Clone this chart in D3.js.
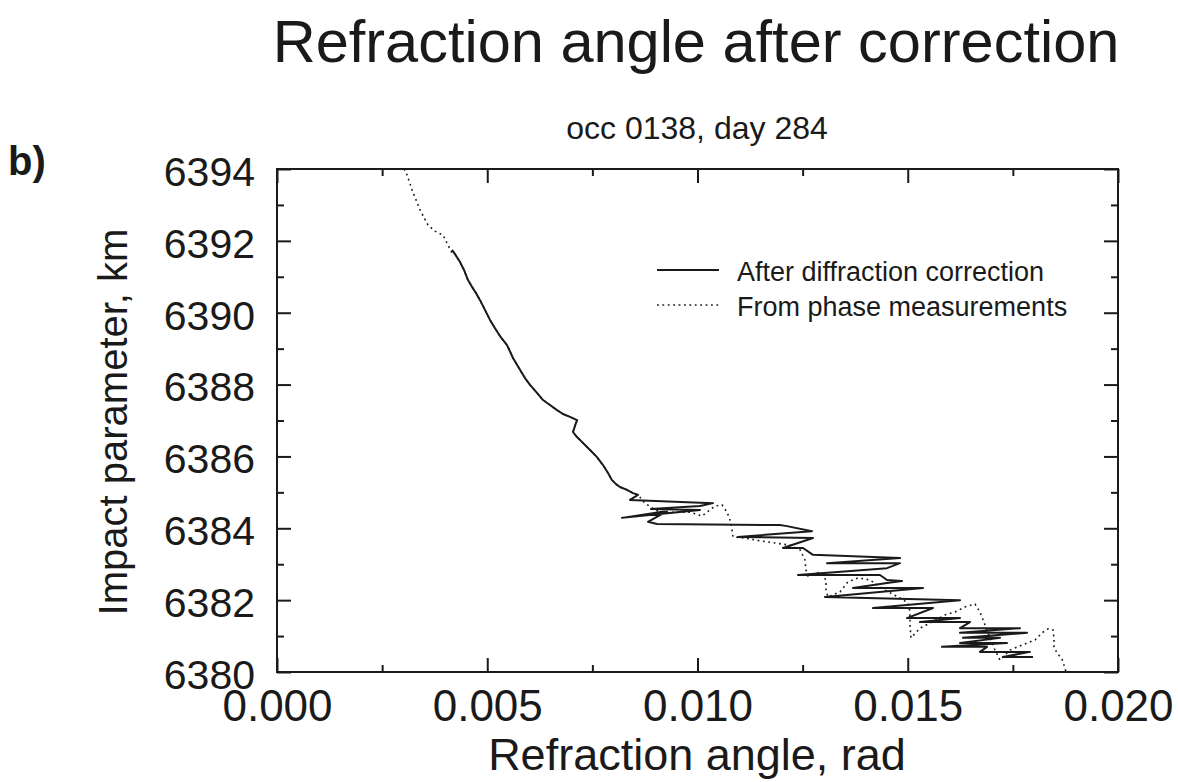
<!DOCTYPE html>
<html>
<head>
<meta charset="utf-8">
<script src="https://cdn.jsdelivr.net/npm/d3@7"></script>
<style>
  html, body { margin: 0; padding: 0; background: #fff; }
  svg { display: block; }
  text { font-family: "Liberation Sans", Arial, Helvetica, sans-serif; fill: #1a1a1a; }
</style>
</head>
<body>
<svg id="chart" width="1178" height="782"></svg>
<script>
// ---------------- DATA ----------------
const titleText = "Refraction angle after correction";
const subtitleText = "occ 0138, day 284";
const panelLabel = "b)";
const xTitle = "Refraction angle, rad";
const yTitle = "Impact parameter, km";
const legendLabels = ["After diffraction correction", "From phase measurements"];

const xMajorTicks = [0.000, 0.005, 0.010, 0.015, 0.020];
const xMinorTicks = [0.0025, 0.0075, 0.0125, 0.0175];
const yMajorTicks = [6380, 6382, 6384, 6386, 6388, 6390, 6392, 6394];
const yMinorTicks = [6381, 6383, 6385, 6387, 6389, 6391, 6393];

// phase measurements only (top part above the start of the corrected profile)
const phaseTopAngle   = [0.003020, 0.003068, 0.003210, 0.003306, 0.003401, 0.003591, 0.003757, 0.003948, 0.004067, 0.004162];
const phaseTopImpact  = [6394.00, 6393.92, 6393.42, 6393.14, 6392.86, 6392.44, 6392.27, 6392.16, 6391.88, 6391.66];

// smooth part where both profiles coincide
const commonAngle  = [0.004162, 0.004233, 0.004352, 0.004447, 0.004542, 0.004637, 0.004732, 0.004828, 0.004946, 0.005065,
                      0.005184, 0.005303, 0.005470, 0.005612, 0.005779, 0.005898, 0.006017, 0.006183, 0.006326, 0.006492,
                      0.006659, 0.006801, 0.006968, 0.007134, 0.007087, 0.007039, 0.007134, 0.007206, 0.007325, 0.007444,
                      0.007610, 0.007753, 0.007872, 0.007967, 0.008062, 0.008157, 0.008323, 0.008466, 0.008585];
const commonImpact = [6391.75, 6391.63, 6391.41, 6391.19, 6390.91, 6390.72, 6390.55, 6390.35, 6390.08, 6389.80,
                      6389.57, 6389.35, 6389.10, 6388.74, 6388.41, 6388.18, 6387.99, 6387.77, 6387.57, 6387.43,
                      6387.29, 6387.18, 6387.10, 6387.01, 6386.85, 6386.68, 6386.54, 6386.46, 6386.32, 6386.18,
                      6385.98, 6385.76, 6385.54, 6385.34, 6385.23, 6385.15, 6385.07, 6384.98, 6384.93];

// after diffraction correction (lower, multipath part)
const corrLowAngle  = [0.008395, 0.010369, 0.010059, 0.008894, 0.010059, 0.008204, 0.009275, 0.008823, 0.009037, 0.011962,
                       0.012128, 0.012723, 0.010963, 0.012747, 0.012033, 0.012509, 0.012747, 0.014816, 0.013080, 0.014816,
                       0.014507, 0.012390, 0.014340, 0.014507, 0.014863, 0.014507, 0.013698, 0.015363, 0.013032, 0.016243,
                       0.014174, 0.015600, 0.014982, 0.016243, 0.015291, 0.016480, 0.016243, 0.017669, 0.016243, 0.017836,
                       0.016314, 0.017194, 0.016243, 0.017360, 0.015814, 0.016885, 0.016718, 0.017907, 0.017265, 0.017979];
const corrLowImpact = [6384.79, 6384.70, 6384.62, 6384.54, 6384.51, 6384.29, 6384.48, 6384.18, 6384.12, 6384.09,
                       6384.06, 6383.92, 6383.76, 6383.73, 6383.45, 6383.45, 6383.26, 6383.17, 6383.03, 6383.03,
                       6382.89, 6382.70, 6382.70, 6382.56, 6382.53, 6382.48, 6382.34, 6382.34, 6382.09, 6382.00,
                       6381.78, 6381.78, 6381.50, 6381.50, 6381.39, 6381.39, 6381.22, 6381.22, 6381.09, 6381.09,
                       6380.95, 6380.95, 6380.81, 6380.81, 6380.70, 6380.70, 6380.56, 6380.56, 6380.42, 6380.42];

// from phase measurements (lower part)
const phaseLowAngle  = [0.008751, 0.008989, 0.009180, 0.009512, 0.009822, 0.010107, 0.010226, 0.010416, 0.010583, 0.010702,
                        0.010773, 0.010820, 0.010844, 0.011130, 0.011486, 0.011843, 0.012200, 0.012438, 0.012556, 0.012580,
                        0.012628, 0.012913, 0.013056, 0.013056, 0.013103, 0.013389, 0.013579, 0.013817, 0.014102, 0.014459,
                        0.014816, 0.015006, 0.015053, 0.015053, 0.015077, 0.015291, 0.015577, 0.015886, 0.016124, 0.016361,
                        0.016599, 0.016718, 0.016837, 0.016956, 0.017075, 0.017194, 0.017432, 0.017717, 0.018026, 0.018193,
                        0.018335, 0.018454, 0.018478, 0.018478, 0.018549, 0.018668, 0.018739, 0.018763];
const phaseLowImpact = [6384.70, 6384.51, 6384.43, 6384.45, 6384.45, 6384.34, 6384.45, 6384.62, 6384.65, 6384.45,
                        6384.23, 6383.95, 6383.76, 6383.73, 6383.65, 6383.59, 6383.53, 6383.40, 6383.12, 6382.84,
                        6382.67, 6382.78, 6382.56, 6382.28, 6382.09, 6382.23, 6382.51, 6382.62, 6382.56, 6382.28,
                        6382.06, 6381.92, 6381.67, 6381.31, 6380.95, 6381.22, 6381.39, 6381.59, 6381.67, 6381.81,
                        6381.89, 6381.67, 6381.31, 6380.95, 6380.61, 6380.33, 6380.61, 6380.75, 6380.89, 6381.09,
                        6381.20, 6381.17, 6380.95, 6380.70, 6380.53, 6380.36, 6380.11, 6380.00];

// ---------------- CHART ----------------
const svg = d3.select("#chart");
const ink = "#1a1a1a";
const m = { left: 277, top: 169, right: 1118, bottom: 672 };

const x = d3.scaleLinear().domain([0, 0.02]).range([m.left, m.right]);
const y = d3.scaleLinear().domain([6380, 6394]).range([m.bottom, m.top]);

const zip = (a, b) => a.map((v, i) => [v, b[i]]);
const corrected = zip(commonAngle.concat(corrLowAngle), commonImpact.concat(corrLowImpact));
const phase = zip(phaseTopAngle.concat(commonAngle.slice(1), phaseLowAngle),
                  phaseTopImpact.concat(commonImpact.slice(1), phaseLowImpact));

svg.append("defs").append("clipPath").attr("id", "clip")
  .append("rect").attr("x", m.left).attr("y", m.top)
  .attr("width", m.right - m.left).attr("height", m.bottom - m.top);

const line = d3.line().x(d => x(d[0])).y(d => y(d[1]));
const plot = svg.append("g").attr("clip-path", "url(#clip)");
plot.append("path").datum(phase).attr("d", line)
  .attr("fill", "none").attr("stroke", ink).attr("stroke-width", 1.6)
  .attr("stroke-dasharray", "1.8,3.6");
plot.append("path").datum(corrected).attr("d", line)
  .attr("fill", "none").attr("stroke", ink).attr("stroke-width", 2)
  .attr("stroke-linejoin", "round");

// axes (ticks inward)
const major = 14, minor = 7;
function styleAxis(g) {
  g.select(".domain").remove();
  g.selectAll(".tick line").attr("stroke", ink).attr("stroke-width", 2);
}
svg.append("g").attr("transform", `translate(0,${m.bottom})`)
  .call(d3.axisBottom(x).tickValues(xMajorTicks).tickSize(-major).tickPadding(18).tickFormat(d3.format(".3f")))
  .call(styleAxis)
  .call(g => g.selectAll("text").attr("font-size", 44).attr("fill", ink)
        .attr("font-family", "Liberation Sans, Arial, sans-serif"));
svg.append("g").attr("transform", `translate(0,${m.bottom})`)
  .call(d3.axisBottom(x).tickValues(xMinorTicks).tickSize(-minor).tickFormat(""))
  .call(styleAxis);
svg.append("g").attr("transform", `translate(0,${m.top})`)
  .call(d3.axisTop(x).tickValues(xMajorTicks).tickSize(-major).tickFormat(""))
  .call(styleAxis);
svg.append("g").attr("transform", `translate(0,${m.top})`)
  .call(d3.axisTop(x).tickValues(xMinorTicks).tickSize(-minor).tickFormat(""))
  .call(styleAxis);
svg.append("g").attr("transform", `translate(${m.left},0)`)
  .call(d3.axisLeft(y).tickValues(yMajorTicks).tickSize(-major).tickPadding(22).tickFormat(d3.format("d")))
  .call(styleAxis)
  .call(g => g.selectAll("text").attr("font-size", 41).attr("fill", ink).attr("dy", "0.4em")
        .attr("font-family", "Liberation Sans, Arial, sans-serif"));
svg.append("g").attr("transform", `translate(${m.left},0)`)
  .call(d3.axisLeft(y).tickValues(yMinorTicks).tickSize(-minor).tickFormat(""))
  .call(styleAxis);
svg.append("g").attr("transform", `translate(${m.right},0)`)
  .call(d3.axisRight(y).tickValues(yMajorTicks).tickSize(-major).tickFormat(""))
  .call(styleAxis);
svg.append("g").attr("transform", `translate(${m.right},0)`)
  .call(d3.axisRight(y).tickValues(yMinorTicks).tickSize(-minor).tickFormat(""))
  .call(styleAxis);

// frame
svg.append("rect").attr("x", m.left).attr("y", m.top)
  .attr("width", m.right - m.left).attr("height", m.bottom - m.top)
  .attr("fill", "none").attr("stroke", ink).attr("stroke-width", 2);

// titles
svg.append("text").attr("x", 696).attr("y", 62).attr("text-anchor", "middle")
  .attr("font-size", 59.5).text(titleText);
svg.append("text").attr("x", 697).attr("y", 139).attr("text-anchor", "middle")
  .attr("font-size", 32).text(subtitleText);
svg.append("text").attr("x", 8).attr("y", 175).attr("font-size", 40)
  .attr("font-weight", "bold").text(panelLabel);
svg.append("text").attr("x", 697).attr("y", 770).attr("text-anchor", "middle")
  .attr("font-size", 45).text(xTitle);
svg.append("text").attr("transform", "translate(127,422) rotate(-90)")
  .attr("text-anchor", "middle").attr("font-size", 40).text(yTitle);

// legend
const legendY = [281, 316];
const legend = svg.append("g");
legendLabels.forEach((lab, i) => {
  const ly = legendY[i] - 11;
  const l = legend.append("line").attr("x1", 657).attr("x2", 719).attr("y1", ly).attr("y2", ly)
    .attr("stroke", ink).attr("stroke-width", i === 0 ? 1.8 : 1.6);
  if (i === 1) l.attr("stroke-dasharray", "1.8,3.6");
  legend.append("text").attr("x", 737).attr("y", legendY[i]).attr("font-size", 27).text(lab);
});
</script>
</body>
</html>
